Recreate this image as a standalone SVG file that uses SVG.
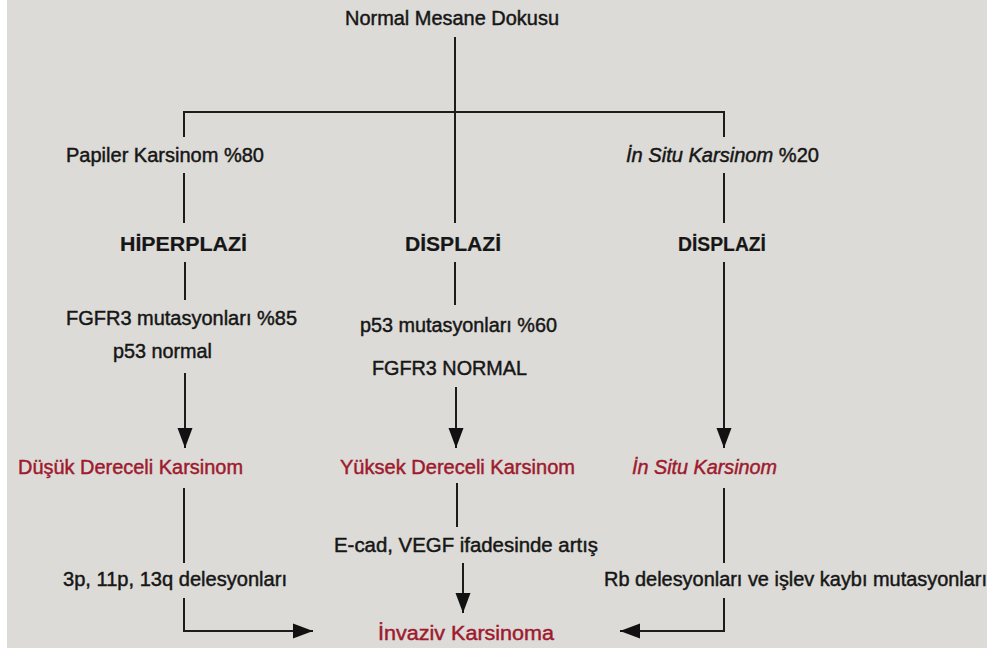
<svg xmlns="http://www.w3.org/2000/svg" width="987" height="655" viewBox="0 0 987 655">
<style>
text{font-family:"Liberation Sans",Arial,sans-serif;font-size:20px;fill:#161616;stroke:#161616;stroke-width:0.45}
.b{font-weight:bold;stroke-width:0.2}
.r{fill:#9e1a2e;stroke:#9e1a2e}
.i{font-style:italic}
.ln{stroke:#1c1c1c;stroke-width:2;fill:none}
</style>
<defs>
<marker id="ah" markerUnits="userSpaceOnUse" markerWidth="20" markerHeight="16" refX="20" refY="8" orient="auto">
<path d="M0,0.5 L20,8 L0,15.5 Z" fill="#111"/>
</marker>
</defs>
<rect x="0" y="0" width="987" height="655" fill="#ffffff"/>
<rect x="7" y="0" width="980" height="648" fill="#dcdbd7"/>
<g id="connectors" class="ln">
<path d="M455,37 V223"/>
<path d="M184,137 V112 H724 V137"/>
<path d="M184,173 V223"/>
<path d="M724,173 V223"/>
<path d="M185,262 V300"/>
<path d="M455,262 V305"/>
<path d="M185,373 V448" marker-end="url(#ah)"/>
<path d="M456,387 V448" marker-end="url(#ah)"/>
<path d="M724,262 V448" marker-end="url(#ah)"/>
<path d="M184,488 V563"/>
<path d="M457,483 V527"/>
<path d="M724,488 V563"/>
<path d="M184,598 V631 H313" marker-end="url(#ah)"/>
<path d="M463,563 V613" marker-end="url(#ah)"/>
<path d="M724,598 V631 H620" marker-end="url(#ah)"/>
</g>
<g id="n-normal"><text x="345" y="25" textLength="214" lengthAdjust="spacingAndGlyphs">Normal Mesane Dokusu</text></g>
<g id="n-papiler"><text x="66" y="162" textLength="198" lengthAdjust="spacingAndGlyphs">Papiler Karsinom %80</text></g>
<g id="n-insitu20"><text x="626" y="162" textLength="193" lengthAdjust="spacingAndGlyphs"><tspan class="i">İn Situ Karsinom</tspan> %20</text></g>
<g id="n-hiperplazi"><text class="b" x="120" y="251" textLength="127" lengthAdjust="spacingAndGlyphs">HİPERPLAZİ</text></g>
<g id="n-displazi1"><text class="b" x="405" y="251" textLength="96" lengthAdjust="spacingAndGlyphs">DİSPLAZİ</text></g>
<g id="n-displazi2"><text class="b" x="678" y="251" textLength="88" lengthAdjust="spacingAndGlyphs">DİSPLAZİ</text></g>
<g id="n-fgfr3mut"><text x="66" y="325" textLength="231" lengthAdjust="spacingAndGlyphs">FGFR3 mutasyonları %85</text></g>
<g id="n-p53normal"><text x="113" y="358" textLength="99" lengthAdjust="spacingAndGlyphs">p53 normal</text></g>
<g id="n-p53mut"><text x="360" y="332" textLength="197" lengthAdjust="spacingAndGlyphs">p53 mutasyonları %60</text></g>
<g id="n-fgfr3normal"><text x="372" y="375" textLength="155" lengthAdjust="spacingAndGlyphs">FGFR3 NORMAL</text></g>
<g id="n-dusuk"><text class="r" x="18" y="474" textLength="225" lengthAdjust="spacingAndGlyphs">Düşük Dereceli Karsinom</text></g>
<g id="n-yuksek"><text class="r" x="340" y="474" textLength="235" lengthAdjust="spacingAndGlyphs">Yüksek Dereceli Karsinom</text></g>
<g id="n-insitu"><text class="r i" x="632" y="474" textLength="145" lengthAdjust="spacingAndGlyphs">İn Situ Karsinom</text></g>
<g id="n-ecad"><text x="334" y="552" textLength="264" lengthAdjust="spacingAndGlyphs">E-cad, VEGF ifadesinde artış</text></g>
<g id="n-3p"><text x="63" y="586" textLength="224" lengthAdjust="spacingAndGlyphs">3p, 11p, 13q delesyonları</text></g>
<g id="n-rb"><text x="604" y="586" textLength="383" lengthAdjust="spacingAndGlyphs">Rb delesyonları ve işlev kaybı mutasyonları</text></g>
<g id="n-invaziv"><text class="r" x="378" y="640" textLength="176" lengthAdjust="spacingAndGlyphs">İnvaziv Karsinoma</text></g>
</svg>
